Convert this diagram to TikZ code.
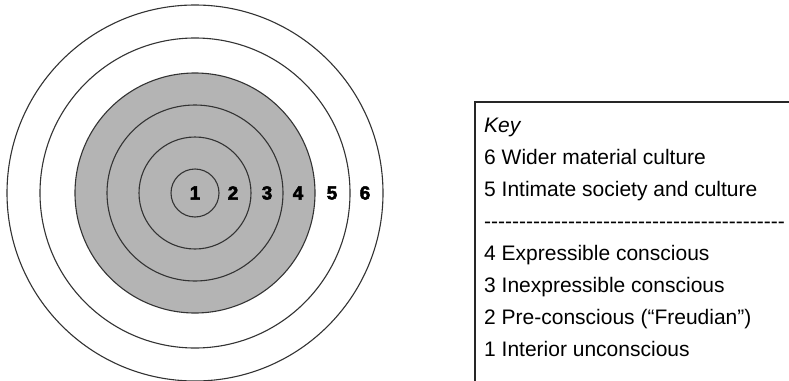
\documentclass[tikz,border=0pt]{standalone}
\usepackage{xcolor}
\usepackage{fontspec}
\setmainfont{Liberation Sans}
\newfontfamily\ringfont[FakeBold=2.5]{Liberation Sans Bold}
\definecolor{ringgray}{RGB}{180,180,180}
\newcommand\dashrow{\foreach \i in {1,...,43}{-\kern0pt}}
\tikzset{
    ringnum/.style={inner sep=0pt, font=\ringfont\fontsize{19}{19}\selectfont},
    keytext/.style={anchor=base west, inner sep=0pt, font=\fontsize{21}{21}\selectfont}
}

\begin{document}
\begin{tikzpicture}[x=1pt,y=-1pt]
\useasboundingbox (0,0) rectangle (789,380);
\clip (0,0) rectangle (789,380);
\fill[white] (0,0) rectangle (789,380);
% rings
\coordinate (c) at (195,193);
\fill[ringgray] (c) circle (120pt);
\foreach \r in {24,56,88,120,155,188} {
    \draw[black!80,line width=1.1pt] (c) circle (\r pt);
}
\foreach \n/\x in {1/195,2/233,3/267,4/298,5/332,6/365} {
    \node[ringnum] (ring\n) at (\x,193) {\n};
}
% key box
\draw[black!85,line width=1.6pt] (475,400) -- (475,102) -- (800,102);
\node[keytext] (key) at (484,132) {\itshape Key};
\node[keytext] (key6) at (484,164) {6 Wider material culture};
\node[keytext] (key5) at (484,196) {5 Intimate society and culture};
\node[keytext] (keysep) at (484,228) {\dashrow};
\node[keytext] (key4) at (484,260) {4 Expressible conscious};
\node[keytext] (key3) at (484,292) {3 Inexpressible conscious};
\node[keytext] (key2) at (484,324) {2 Pre-conscious (“Freudian”)};
\node[keytext] (key1) at (484,356) {1 Interior unconscious};
\end{tikzpicture}
\end{document}
